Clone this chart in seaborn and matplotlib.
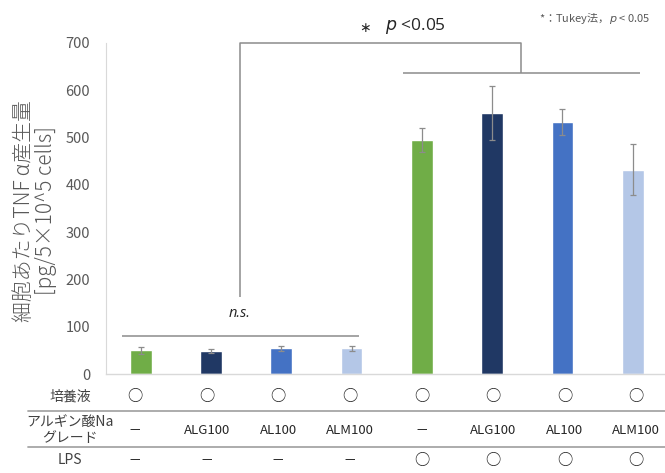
import matplotlib
matplotlib.use("Agg")
import matplotlib.pyplot as plt
import seaborn as sns
import pandas as pd

# ---------------- data ----------------
grade = ["—", "ALG100", "AL100", "ALM100", "—", "ALG100", "AL100", "ALM100"]
medium = ["○", "○", "○", "○", "○", "○", "○", "○"]
lps = ["—", "—", "—", "—", "○", "○", "○", "○"]
tnf = [50, 49, 54, 54, 495, 552, 533, 432]
tnf_err = [8, 4, 5, 5, 26, 58, 27, 54]
bar_colors = ["#70AD47", "#203864", "#4472C4", "#B4C7E7",
              "#70AD47", "#203864", "#4472C4", "#B4C7E7"]
yticks = [0, 100, 200, 300, 400, 500, 600, 700]
row_labels = ["培養液", "アルギン酸Na\nグレード", "LPS"]
ylabel = "細胞あたりTNF\u2009α産生量\n[pg/5×10^5 cells]"

cond = [f"{g} / LPS{l}" for g, l in zip(grade, lps)]
df = pd.DataFrame({"cond": cond, "tnf": tnf, "err": tnf_err})

sns.set_theme(style="white")
plt.rcParams["font.family"] = ["Noto Sans CJK JP", "DejaVu Sans"]
plt.rcParams["mathtext.fontset"] = "dejavusans"

W, H = 665, 473
fig = plt.figure(figsize=(W / 100, H / 100), dpi=100)
ax = fig.add_axes([105.5 / W, 99 / H, 562.4 / W, 331 / H])

sns.barplot(data=df, x="cond", y="tnf", hue="cond", order=cond,
            palette=dict(zip(cond, bar_colors)), width=0.31, saturation=1,
            errorbar=None, legend=False, ax=ax)
ax.errorbar(range(len(cond)), tnf, yerr=tnf_err, fmt="none",
            ecolor="#8C8C8C", elinewidth=0.9, capsize=2.5, capthick=0.9)

ax.set_ylim(0, 700)
ax.set_xlim(-0.5, len(cond) - 0.5)
ax.set_yticks(yticks)
ax.set_xticks([])
ax.set_xlabel("")
ax.set_ylabel("")
ax.tick_params(axis="y", length=0, pad=11, labelsize=10.5, labelcolor="#595959")
for s in ["top", "right"]:
    ax.spines[s].set_visible(False)
ax.spines["left"].set_color("#D9D9D9")
ax.spines["left"].set_linewidth(0.8)
ax.spines["bottom"].set_color("#D9D9D9")
ax.spines["bottom"].set_linewidth(1.0)

# ---------------- significance brackets ----------------
lc = "#8C8C8C"
kw = dict(color=lc, lw=1.1, clip_on=False, solid_capstyle="butt")
ax.plot([1.41, 1.41, 5.41, 5.41], [163, 701, 701, 636], **kw)
ax.plot([3.73, 7.10], [636, 636], **kw)
ax.plot([-0.27, 3.10], [80, 80], **kw)
ax.text(1.41, 129, "n.s.", ha="center", va="center", fontsize=10.5,
        style="italic", color="#262626", family=["Open Sans", "DejaVu Sans"])

fig.text(365 / W, 1 - 28 / H, "∗", ha="center", va="center", fontsize=10,
         color="#262626", family=["DejaVu Sans"])
fig.text(385 / W, 1 - 26 / H, "$p$ <0.05", ha="left", va="center",
         fontsize=12.5, color="#262626", family=["Open Sans", "DejaVu Sans"])
fig.text(650 / W, 1 - 18 / H, "*：Tukey法，$p$ < 0.05", ha="right",
         va="center", fontsize=8, color="#595959")

# ---------------- y label ----------------
fig.text(35 / W, 1 - 211 / H, ylabel, rotation=90, ha="center", va="center",
         fontsize=15, color="#595959", linespacing=1.0, fontweight="light",
         multialignment="center")

# ---------------- condition table ----------------
col_x = [135 + 71.6 * i for i in range(len(cond))]
row_y = [396.7, 430, 460]
label_x = 70
for y in [410.7, 446.7]:
    fig.add_artist(plt.Line2D([28 / W, 1], [1 - y / H, 1 - y / H],
                              color="#A6A6A6", lw=1.3))
for lab, y in zip(row_labels, row_y):
    fig.text(label_x / W, 1 - y / H, lab, ha="center", va="center",
             fontsize=10, color="#404040", linespacing=1.15)
for rowvals, y, fs in [(medium, row_y[0], 11), (grade, row_y[1], 9.5),
                       (lps, row_y[2], 11)]:
    for x, v in zip(col_x, rowvals):
        size = fs
        if v == "—":
            size = 8.5
        fig.text(x / W, 1 - y / H, v, ha="center", va="center",
                 fontsize=size, color="#262626")

fig.savefig("out.png", dpi=100)
